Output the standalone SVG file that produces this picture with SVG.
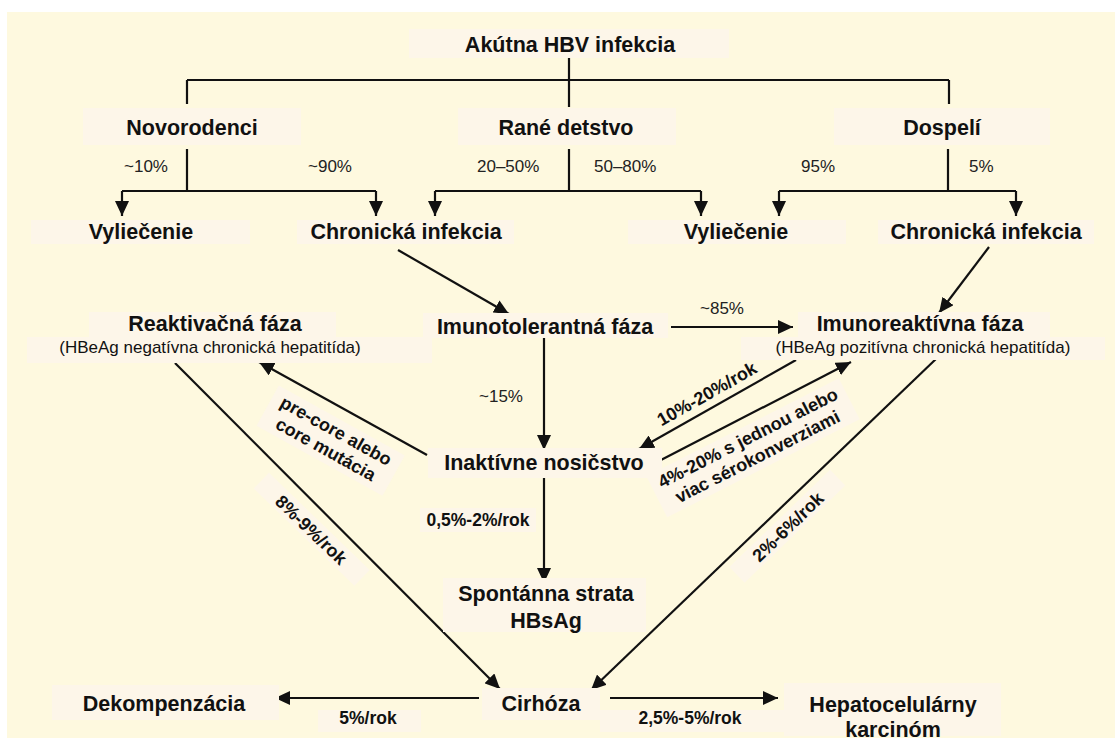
<svg xmlns="http://www.w3.org/2000/svg" width="1115" height="746" viewBox="0 0 1115 746">
<defs>
<style>
.bg{fill:#fef9df}
.bx{fill:#fdf6e9}
.n{font-family:"Liberation Sans",Arial,sans-serif;font-weight:bold;font-size:21.5px;fill:#111;text-anchor:middle}
.s{font-family:"Liberation Sans",Arial,sans-serif;font-size:17px;fill:#111;text-anchor:middle}
.p{font-family:"Liberation Sans",Arial,sans-serif;font-size:17px;fill:#222}
.b{font-family:"Liberation Sans",Arial,sans-serif;font-weight:bold;font-size:17.5px;fill:#111;text-anchor:middle}
.r{font-family:"Liberation Sans",Arial,sans-serif;font-weight:bold;font-size:18px;fill:#111;text-anchor:middle}
.ln{stroke:#111;stroke-width:2.2;fill:none}
.ar{stroke:#111;stroke-width:2.2;fill:none;marker-end:url(#ah)}
</style>
<marker id="ah" markerUnits="userSpaceOnUse" markerWidth="16" markerHeight="14" refX="15" refY="7" orient="auto">
<path d="M0,0 L15,7 L0,14 z" fill="#111"/>
</marker>
</defs>
<rect x="0" y="0" width="1115" height="746" fill="#ffffff"/>
<rect class="bg" x="7" y="12" width="1108" height="726"/>

<g id="connectors">
<path class="ln" d="M569,58 V107 M187,80 H949 M187,80 V104 M949,80 V104"/>
<path class="ln" d="M187,149 V191 M122,191 H376 M569,149 V191 M435,191 H701 M948,149 V191 M779,191 H1016"/>
<path class="ar" d="M122,191 V216"/>
<path class="ar" d="M376,191 V216"/>
<path class="ar" d="M435,191 V216"/>
<path class="ar" d="M701,191 V216"/>
<path class="ar" d="M779,191 V216"/>
<path class="ar" d="M1016,191 V216"/>
<path class="ar" d="M398,250 L509,314"/>
<path class="ar" d="M671,327 L793,327"/>
<path class="ar" d="M544,338 L544,450"/>
<path class="ar" d="M544,476 L544,583"/>
<path class="ar" d="M989,247 L939,313"/>
<path class="ar" d="M796,360 L639,449"/>
<path class="ar" d="M659,461 L851,362"/>
<path class="ar" d="M427,455 L259,362"/>
<path class="ar" d="M175,363 L500,689"/>
<path class="ar" d="M937,358 L591,690"/>
<path class="ar" d="M479,698 L275,698"/>
<path class="ar" d="M610,698 L778,698"/>
</g>

<g id="acute"><rect class="bx" x="409" y="29" width="320" height="29"/><text class="n" x="570" y="52">Akútna HBV infekcia</text></g>
<g id="novorodenci"><rect class="bx" x="83" y="108" width="218" height="37"/><text class="n" x="192" y="135">Novorodenci</text></g>
<g id="rane"><rect class="bx" x="458" y="108" width="218" height="37"/><text class="n" x="566" y="135">Rané detstvo</text></g>
<g id="dospeli"><rect class="bx" x="834" y="108" width="216" height="37"/><text class="n" x="942" y="135">Dospelí</text></g>

<g id="pct">
<text class="p" x="124" y="172">~10%</text>
<text class="p" x="308" y="172">~90%</text>
<text class="p" x="477" y="172">20–50%</text>
<text class="p" x="594" y="172">50–80%</text>
<text class="p" x="801" y="172">95%</text>
<text class="p" x="969" y="172">5%</text>
<text class="p" x="700" y="314">~85%</text>
<text class="p" x="479" y="402">~15%</text>
</g>

<g id="vyl1"><rect class="bx" x="31" y="220" width="219" height="24"/><text class="n" x="141" y="239">Vyliečenie</text></g>
<g id="chr1"><rect class="bx" x="297" y="220" width="217" height="24"/><text class="n" x="406" y="239">Chronická infekcia</text></g>
<g id="vyl2"><rect class="bx" x="628" y="220" width="218" height="24"/><text class="n" x="736" y="239">Vyliečenie</text></g>
<g id="chr2"><rect class="bx" x="878" y="220" width="216" height="24"/><text class="n" x="986" y="239">Chronická infekcia</text></g>

<g id="reakt"><rect class="bx" x="89" y="312" width="247" height="25"/><rect class="bx" x="27" y="337" width="405" height="26"/><text class="n" x="215" y="331">Reaktivačná fáza</text><text class="s" x="210" y="353">(HBeAg negatívna chronická hepatitída)</text></g>
<g id="imtol"><rect class="bx" x="423" y="313" width="245" height="25"/><text class="n" x="545" y="334">Imunotolerantná fáza</text></g>
<g id="imreakt"><rect class="bx" x="798" y="312" width="252" height="25"/><rect class="bx" x="741" y="337" width="364" height="23"/><text class="n" x="920" y="331">Imunoreaktívna fáza</text><text class="s" x="923" y="353">(HBeAg pozitívna chronická hepatitída)</text></g>
<g id="inakt"><rect class="bx" x="428" y="448" width="234" height="30"/><text class="n" x="544" y="470">Inaktívne nosičstvo</text></g>
<g id="lbl-rate"><rect class="bx" x="420" y="508" width="116" height="24"/><text class="b" x="478" y="526">0,5%-2%/rok</text></g>
<g id="spont"><rect class="bx" x="443" y="578" width="203" height="54"/><text class="n" x="546" y="601">Spontánna strata</text><text class="n" x="546" y="628">HBsAg</text></g>
<g id="dekomp"><rect class="bx" x="52" y="685" width="227" height="35"/><text class="n" x="164" y="711">Dekompenzácia</text></g>
<g id="cirhoza"><rect class="bx" x="482" y="688" width="118" height="32"/><text class="n" x="541" y="711">Cirhóza</text></g>
<g id="hcc"><rect class="bx" x="784" y="683" width="217" height="53"/><text class="n" x="893" y="712">Hepatocelulárny</text><text class="n" x="893" y="737">karcinóm</text></g>
<g id="lbl-5"><rect class="bx" x="318" y="710" width="103" height="22"/><text class="b" x="368" y="724">5%/rok</text></g>
<g id="lbl-25"><rect class="bx" x="600" y="710" width="184" height="22"/><text class="b" x="690" y="724">2,5%-5%/rok</text></g>

<g id="lbl-precore" transform="translate(336,431) rotate(29)"><rect class="bx" x="-72" y="-12" width="144" height="46"/><text class="r" x="0" y="6">pre-core alebo</text><text class="r" x="0" y="27">core mutácia</text></g>
<g id="lbl-1020" transform="translate(707,394) rotate(-29.5)"><text class="r" x="0" y="6">10%-20%/rok</text></g>
<g id="lbl-420" transform="translate(748,438) rotate(-27)"><rect class="bx" x="-108" y="-12" width="216" height="46"/><text class="r" x="0" y="6">4%-20% s jednou alebo</text><text class="r" x="0" y="27">viac sérokonverziami</text></g>
<g id="lbl-89" transform="translate(311,530) rotate(44)"><rect class="bx" x="-70" y="-12" width="140" height="22"/><text class="r" x="0" y="6">8%-9%/rok</text></g>
<g id="lbl-26" transform="translate(788,527) rotate(-44)"><rect class="bx" x="-70" y="-12" width="140" height="22"/><text class="r" x="0" y="6">2%-6%/rok</text></g>
</svg>
